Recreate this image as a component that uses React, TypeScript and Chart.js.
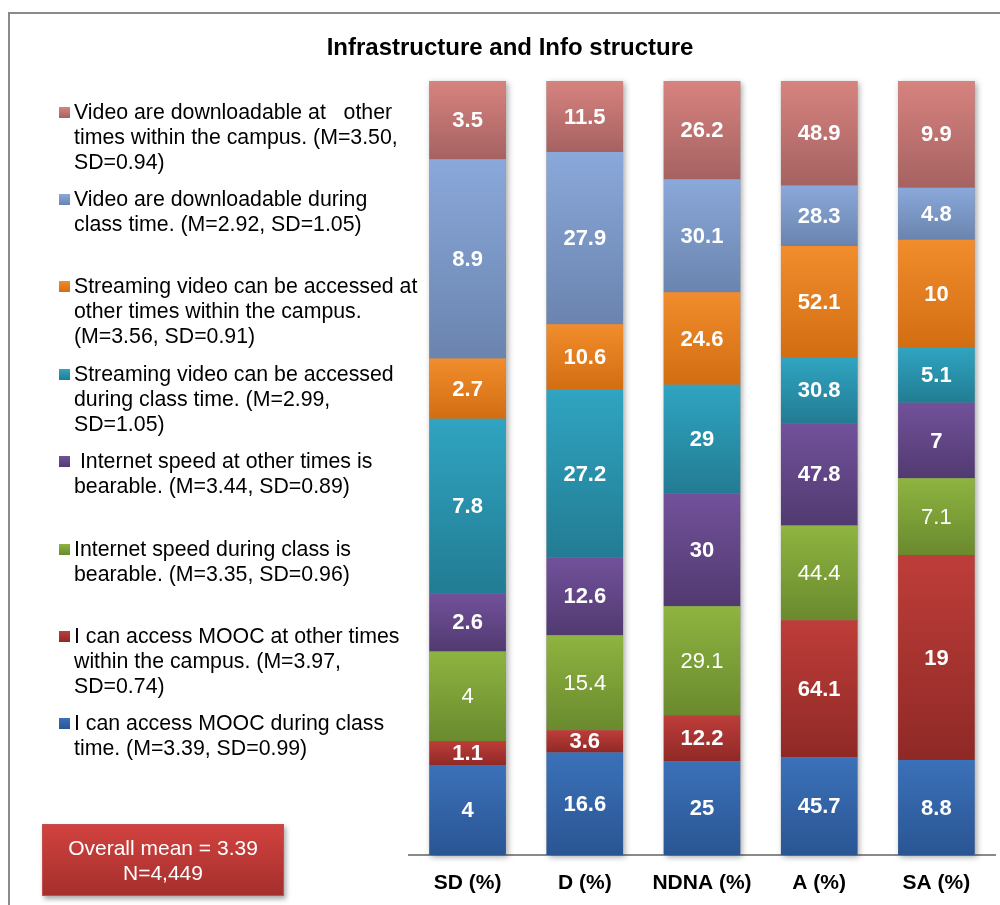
import React, { useEffect, useRef } from "react";
import { Chart, registerables } from "chart.js";

Chart.register(...registerables);

// ---------- data ----------
const chartTitle = "Infrastructure and Info structure";
const categories = ["SD (%)", "D (%)", "NDNA (%)", "A (%)", "SA (%)"];

// series, bottom of stack first
const seriesNames = [
  "I can access MOOC during class\ntime. (M=3.39, SD=0.99)",
  "I can access MOOC at other times\nwithin the campus. (M=3.97,\nSD=0.74)",
  "Internet speed during class is\nbearable. (M=3.35, SD=0.96)",
  " Internet speed at other times is\nbearable. (M=3.44, SD=0.89)",
  "Streaming video can be accessed\nduring class time. (M=2.99,\nSD=1.05)",
  "Streaming video can be accessed at\nother times within the campus.\n(M=3.56, SD=0.91)",
  "Video are downloadable during\nclass time. (M=2.92, SD=1.05)",
  "Video are downloadable at   other\ntimes within the campus. (M=3.50,\nSD=0.94)",
];

const accessClass = [4, 16.6, 25, 45.7, 8.8];
const accessOther = [1.1, 3.6, 12.2, 64.1, 19];
const speedClass = [4, 15.4, 29.1, 44.4, 7.1];
const speedOther = [2.6, 12.6, 30, 47.8, 7];
const streamClass = [7.8, 27.2, 29, 30.8, 5.1];
const streamOther = [2.7, 10.6, 24.6, 52.1, 10];
const downloadClass = [8.9, 27.9, 30.1, 28.3, 4.8];
const downloadOther = [3.5, 11.5, 26.2, 48.9, 9.9];

const seriesValues = [
  accessClass,
  accessOther,
  speedClass,
  speedOther,
  streamClass,
  streamOther,
  downloadClass,
  downloadOther,
];

const overallMean = "3.39";
const sampleSize = "4,449";

// ---------- styles ----------
const FONT = "'Liberation Sans', Arial, sans-serif";
const seriesColors: [string, string][] = [
  ["#3B71B9", "#2A5593"],
  ["#BE3D39", "#8F2926"],
  ["#8EB440", "#6A8A2E"],
  ["#72519B", "#513A70"],
  ["#30A4C1", "#227C93"],
  ["#F28D2D", "#D26D12"],
  ["#8AA8DA", "#6A84AE"],
  ["#D7837F", "#A56261"],
];
const labelBold = [true, true, false, true, true, true, true, true];

// column totals -> share of each column (100% stacked)
const columnTotals = categories.map((_, i) =>
  seriesValues.reduce((s, arr) => s + arr[i], 0)
);
const shares = seriesValues.map((arr) =>
  arr.map((v, i) => (v / columnTotals[i]) * 100)
);

function segmentGradient(c: any, di: number) {
  const [top, bottom] = seriesColors[di];
  const chart = c.chart;
  const ys = chart.scales && chart.scales.y;
  if (!chart.chartArea || !ys || c.dataIndex === undefined) return top;
  const i = c.dataIndex;
  let start = 0;
  for (let k = 0; k < di; k++) start += shares[k][i];
  const end = start + shares[di][i];
  const y0 = ys.getPixelForValue(end);
  const y1 = ys.getPixelForValue(start);
  if (!isFinite(y0) || !isFinite(y1) || y0 === y1) return top;
  const g = chart.ctx.createLinearGradient(0, y0, 0, y1);
  g.addColorStop(0, top);
  g.addColorStop(1, bottom);
  return g;
}

const shadowPlugin = {
  id: "columnShadow",
  beforeDatasetsDraw(chart: any) {
    const ctx = chart.ctx;
    const first = chart.getDatasetMeta(0);
    const last = chart.getDatasetMeta(chart.data.datasets.length - 1);
    ctx.save();
    ctx.shadowColor = "rgba(0,0,0,0.35)";
    ctx.shadowBlur = 6;
    ctx.shadowOffsetX = 2;
    ctx.shadowOffsetY = 2;
    ctx.fillStyle = "#888";
    first.data.forEach((el: any, i: number) => {
      const topEl = last.data[i];
      const w = el.width;
      ctx.fillRect(el.x - w / 2, topEl.y, w, el.base - topEl.y);
    });
    ctx.restore();
  },
};

const labelPlugin = {
  id: "segmentLabels",
  afterDatasetsDraw(chart: any) {
    const ctx = chart.ctx;
    ctx.save();
    ctx.fillStyle = "#ffffff";
    ctx.textAlign = "center";
    ctx.textBaseline = "middle";
    chart.data.datasets.forEach((_: any, di: number) => {
      const meta = chart.getDatasetMeta(di);
      ctx.font = `${labelBold[di] ? "bold " : ""}22px ${FONT}`;
      meta.data.forEach((el: any, i: number) => {
        const v = seriesValues[di][i];
        ctx.fillText(String(v), el.x, (el.y + el.base) / 2 + 1);
      });
    });
    ctx.restore();
  },
};

function Legend() {
  const items = seriesNames
    .map((name, di) => ({ name, di }))
    .reverse();
  return (
    <>
      {items.map((it, k) => {
        const center = 112 + 87.4 * k;
        const [top, bottom] = seriesColors[it.di];
        return (
          <div key={k}>
            <div
              style={{
                position: "absolute",
                left: 59,
                top: center - 5.5,
                width: 11,
                height: 11,
                background: `linear-gradient(${top}, ${bottom})`,
              }}
            />
            <div
              style={{
                position: "absolute",
                left: 74,
                top: center - 12.5,
                fontFamily: FONT,
                fontSize: 21.3,
                lineHeight: "25px",
                color: "#000",
                whiteSpace: "pre",
              }}
            >
              {it.name}
            </div>
          </div>
        );
      })}
    </>
  );
}

export default function App() {
  const canvasRef = useRef<HTMLCanvasElement | null>(null);

  useEffect(() => {
    if (!canvasRef.current) return;
    const chart = new Chart(canvasRef.current, {
      type: "bar",
      data: {
        labels: categories,
        datasets: seriesValues.map((_, di) => ({
          label: seriesNames[di],
          data: shares[di],
          backgroundColor: (c: any) => segmentGradient(c, di),
          borderWidth: 0,
          barPercentage: 0.653,
          categoryPercentage: 1,
        })),
      },
      options: {
        responsive: false,
        animation: false,
        events: [],
        layout: { padding: { left: 409, right: 5, top: 81, bottom: 0 } },
        plugins: {
          legend: { display: false },
          title: { display: false },
          tooltip: { enabled: false },
        },
        scales: {
          x: {
            stacked: true,
            grid: { display: false, drawTicks: false, tickLength: 0 },
            border: { display: true, color: "#8a8a8a", width: 2 },
            ticks: {
              color: "#000",
              padding: 16,
              font: { family: FONT, size: 21, weight: "bold" },
              maxRotation: 0,
              autoSkip: false,
            },
            afterFit: (scale: any) => {
              scale.height = 50;
            },
          },
          y: {
            stacked: true,
            display: false,
            min: 0,
            max: 100,
          },
        },
      },
      plugins: [shadowPlugin, labelPlugin],
    });
    return () => chart.destroy();
  }, []);

  return (
    <div
      style={{
        position: "absolute",
        left: 0,
        top: 0,
        width: 1000,
        height: 905,
        overflow: "hidden",
        background: "#fff",
        fontFamily: FONT,
      }}
    >
      <div
        style={{
          position: "absolute",
          left: 8,
          top: 12,
          width: 1100,
          height: 1000,
          border: "2px solid #8a8a8a",
          boxSizing: "border-box",
        }}
      />
      <canvas
        ref={canvasRef}
        width={1000}
        height={905}
        style={{ position: "absolute", left: 0, top: 0, width: 1000, height: 905 }}
      />
      <div
        style={{
          position: "absolute",
          left: 0,
          width: 1020,
          top: 35,
          textAlign: "center",
          fontFamily: FONT,
          fontWeight: "bold",
          fontSize: 24,
          lineHeight: "24px",
          color: "#000",
        }}
      >
        {chartTitle}
      </div>
      <Legend />
      <div
        style={{
          position: "absolute",
          left: 42,
          top: 824,
          width: 242,
          height: 72,
          boxSizing: "border-box",
          background: "linear-gradient(#D1423F, #A52F2C)",
          border: "1px solid #C0504D",
          boxShadow: "2px 3px 5px rgba(0,0,0,0.35)",
          color: "#fff",
          fontFamily: FONT,
          fontSize: 21,
          lineHeight: "25px",
          textAlign: "center",
          paddingTop: 10,
        }}
      >
        {`Overall mean = ${overallMean}`}
        <br />
        {`N=${sampleSize}`}
      </div>
    </div>
  );
}
